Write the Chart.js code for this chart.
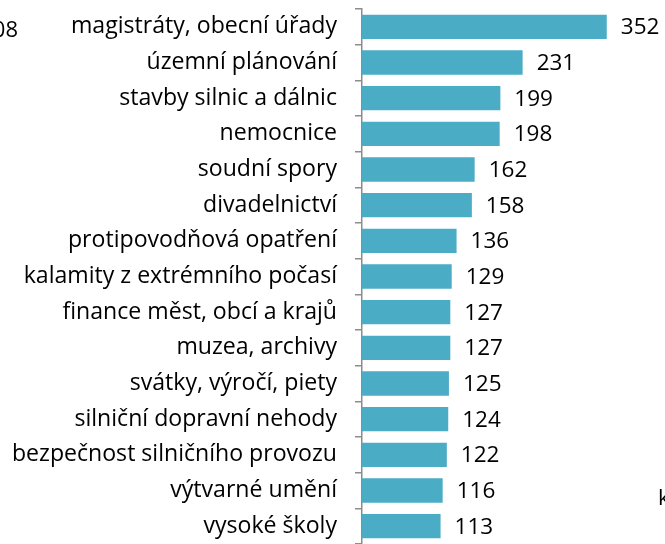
<!DOCTYPE html>
<html>
<head>
<meta charset="utf-8">
<script src="https://cdn.jsdelivr.net/npm/chart.js@4.4.1/dist/chart.umd.min.js"></script>
<style>
  html, body { margin: 0; padding: 0; background: #fff; overflow: hidden; }
  #wrap { position: relative; width: 665px; height: 544px; }
  .stray { position: absolute; font-family: "Open Sans", sans-serif; font-size: 22px; color: #000; white-space: nowrap; line-height: 1; }
</style>
</head>
<body>
<div id="wrap">
  <canvas id="myChart" width="665" height="544"></canvas>
  <div class="stray" style="right:647px; top:17px;">308</div>
  <div class="stray" style="left:658px; top:485px;">k</div>
</div>
<script>
const categories = [
  "magistráty, obecní úřady",
  "územní plánování",
  "stavby silnic a dálnic",
  "nemocnice",
  "soudní spory",
  "divadelnictví",
  "protipovodňová opatření",
  "kalamity z extrémního počasí",
  "finance měst, obcí a krajů",
  "muzea, archivy",
  "svátky, výročí, piety",
  "silniční dopravní nehody",
  "bezpečnost silničního provozu",
  "výtvarné umění",
  "vysoké školy"
];
const counts = [352, 231, 199, 198, 162, 158, 136, 129, 127, 127, 125, 124, 122, 116, 113];

const FONT = "'Open Sans', sans-serif";

// value labels drawn just past the end of each bar
const valueLabels = {
  id: "valueLabels",
  afterDatasetsDraw(chart) {
    const ctx = chart.ctx;
    const meta = chart.getDatasetMeta(0);
    ctx.save();
    ctx.font = "22.5px " + FONT;
    ctx.fillStyle = "#000";
    ctx.textAlign = "left";
    ctx.textBaseline = "middle";
    meta.data.forEach((bar, i) => {
      ctx.fillText(String(counts[i]), bar.x + 14, bar.y + 1);
    });
    ctx.restore();
  }
};

const ctx = document.getElementById("myChart").getContext("2d");
new Chart(ctx, {
  type: "bar",
  data: {
    labels: categories,
    datasets: [
      {
        data: counts,
        backgroundColor: "#4BACC6",
        borderWidth: 0,
        barPercentage: 0.68,
        categoryPercentage: 1
      }
    ]
  },
  options: {
    indexAxis: "y",
    responsive: false,
    animation: false,
    layout: { padding: { top: 9, bottom: 0, left: 0, right: 4 } },
    plugins: {
      legend: { display: false },
      tooltip: { enabled: false }
    },
    scales: {
      x: {
        display: false,
        min: 0,
        max: 430
      },
      y: {
        afterFit: (scale) => {
          scale.width = 362;
          scale.paddingTop = 0;
          scale.paddingBottom = 0;
        },
        grid: {
          drawOnChartArea: false,
          tickLength: 7,
          color: "#8c8c8c",
          lineWidth: 1.5
        },
        border: { display: true, color: "#8c8c8c", width: 1.5 },
        ticks: {
          padding: 18,
          color: "#000",
          font: { family: FONT, size: 23.1 }
        }
      }
    }
  },
  plugins: [valueLabels]
});
</script>
</body>
</html>
